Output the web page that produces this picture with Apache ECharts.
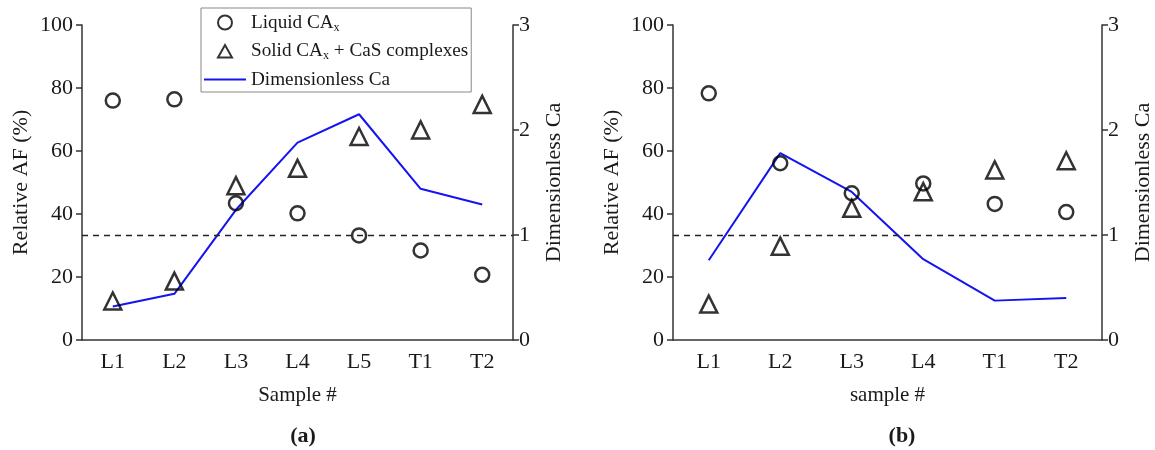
<!DOCTYPE html>
<html>
<head>
<meta charset="utf-8">
<script src="https://cdn.jsdelivr.net/npm/echarts@6/dist/echarts.min.js"></script>
<style>html,body{margin:0;padding:0;background:#fff}#c{width:1155px;height:450px}</style>
</head>
<body>
<div id="c"></div>
<script>
// Panel (a)
const catsA = ['L1','L2','L3','L4','L5','T1','T2'];
const liquidA = [76.0, 76.4, 43.4, 40.2, 33.2, 28.4, 20.7];
const solidA = [12.4, 18.7, 49.0, 54.5, 64.6, 66.7, 74.8];
const caA = [0.32, 0.44, 1.24, 1.88, 2.15, 1.44, 1.29];
// Panel (b)
const catsB = ['L1','L2','L3','L4','T1','T2'];
const liquidB = [78.3, 56.1, 46.6, 49.7, 43.2, 40.6];
const solidB = [11.4, 29.8, 41.8, 47.1, 54.0, 56.9];
const caB = [0.76, 1.78, 1.41, 0.77, 0.375, 0.40];
// Reference line on right axis
const refCa = 1;
const leftTicks = {min: 0, max: 100, interval: 20};
const rightTicks = {min: 0, max: 3, interval: 1};

const FONT = 'Liberation Serif';
const TXT = '#1a1a1a';
const AX = '#333';

function xAxis(gridIndex, cats, name) {
  return {
    type: 'category', gridIndex, data: cats, name,
    nameLocation: 'middle', nameGap: 45,
    nameTextStyle: {fontFamily: FONT, fontSize: 21, color: TXT},
    axisLine: {lineStyle: {color: AX, width: 1.5}},
    axisTick: {alignWithLabel: true, length: 6, lineStyle: {color: AX, width: 1.5}},
    axisLabel: {fontFamily: FONT, fontSize: 22, color: TXT, margin: 11},
    splitLine: {show: false}
  };
}
function yLeft(gridIndex) {
  return {
    type: 'value', gridIndex, position: 'left', ...leftTicks,
    name: 'Relative AF (%)', nameLocation: 'middle', nameGap: 50,
    nameTextStyle: {fontFamily: FONT, fontSize: 22, color: TXT},
    axisLine: {show: true, lineStyle: {color: AX, width: 1.5}},
    axisTick: {show: true, length: 6, lineStyle: {color: AX, width: 1.5}},
    axisLabel: {fontFamily: FONT, fontSize: 22, color: TXT, margin: 9},
    splitLine: {show: false}
  };
}
function yRight(gridIndex) {
  return {
    type: 'value', gridIndex, position: 'right', ...rightTicks,
    name: 'Dimensionless Ca', nameLocation: 'middle', nameGap: 30,
    nameTextStyle: {fontFamily: FONT, fontSize: 22, color: TXT},
    axisLine: {show: true, lineStyle: {color: AX, width: 1.5}},
    axisTick: {show: true, length: 6, lineStyle: {color: AX, width: 1.5}},
    axisLabel: {fontFamily: FONT, fontSize: 22, color: TXT, margin: 6},
    splitLine: {show: false}
  };
}
const circleStyle = {color: 'transparent', borderColor: '#000', borderWidth: 2.5};
const triStyle = {color: 'transparent', borderColor: '#000', borderWidth: 2.5};
function scatter(name, xi, yi, data, symbol, size) {
  return {type: 'scatter', name, xAxisIndex: xi, yAxisIndex: yi, data, symbol, symbolSize: size,
    itemStyle: symbol === 'circle' ? circleStyle : triStyle, z: 3};
}
function caLine(name, xi, yi, data) {
  return {type: 'line', name, xAxisIndex: xi, yAxisIndex: yi, data, symbol: 'none',
    lineStyle: {color: '#1414f0', width: 2}, itemStyle: {color: '#1414f0'}, z: 2,
    markLine: {silent: true, symbol: 'none', label: {show: false},
      lineStyle: {color: '#222', type: [6, 5], width: 1.3},
      data: [{yAxis: refCa}]}};
}

const chart = echarts.init(document.getElementById('c'));
chart.setOption({
  animation: false,
  backgroundColor: '#fff',
  grid: [
    {left: 82, right: 642, top: 25, bottom: 110},
    {left: 673, right: 47, top: 25, bottom: 110}
  ],
  title: [
    {text: '(a)', left: 298, top: 420, textAlign: 'center',
     textStyle: {fontFamily: FONT, fontSize: 22, fontWeight: 'bold', color: TXT}},
    {text: '(b)', left: 897, top: 420, textAlign: 'center',
     textStyle: {fontFamily: FONT, fontSize: 22, fontWeight: 'bold', color: TXT}}
  ],
  legend: {
    orient: 'vertical', left: 201, top: 8,
    data: [
      {name: 'Liquid CAx', icon: 'circle'},
      {name: 'Solid CAx + CaS complexes', icon: 'path://M0,0 M42,14 M14,13.5 L21,1 L28,13.5 Z'},
      {name: 'Dimensionless Ca', itemStyle: {opacity: 0}}
    ],
    itemWidth: 42, itemHeight: 14, itemGap: 8,
    padding: [5, 3, 3, 2],
    borderColor: '#888', borderWidth: 1, backgroundColor: '#fff',
    selectedMode: false,
    formatter: function (n) {
      if (n === 'Liquid CAx') return 'Liquid CA{sub|x}';
      if (n === 'Solid CAx + CaS complexes') return 'Solid CA{sub|x} + CaS complexes';
      return n;
    },
    textStyle: {fontFamily: FONT, fontSize: 19.2, color: TXT,
      rich: {sub: {fontFamily: FONT, fontSize: 12, color: TXT, padding: [10, 0, 0, 0]}}}
  },
  xAxis: [xAxis(0, catsA, 'Sample #'), xAxis(1, catsB, 'sample #')],
  yAxis: [yLeft(0), yRight(0), yLeft(1), yRight(1)],
  series: [
    scatter('Liquid CAx', 0, 0, liquidA, 'circle', 14),
    scatter('Solid CAx + CaS complexes', 0, 0, solidA, 'triangle', 17),
    caLine('Dimensionless Ca', 0, 1, caA),
    scatter('Liquid CAx (b)', 1, 2, liquidB, 'circle', 14),
    scatter('Solid CAx + CaS complexes (b)', 1, 2, solidB, 'triangle', 17),
    caLine('Dimensionless Ca (b)', 1, 3, caB)
  ]
});
</script>
</body>
</html>
